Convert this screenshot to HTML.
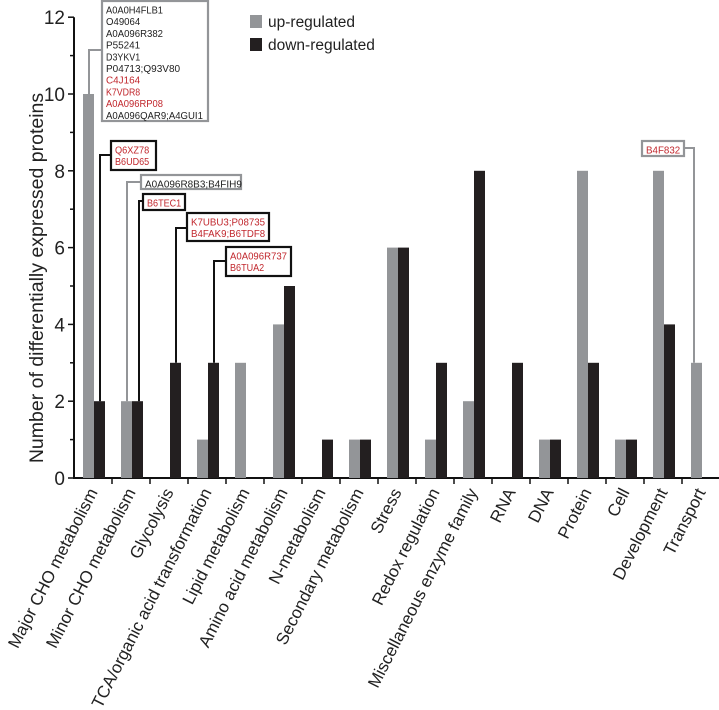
<!DOCTYPE html>
<html><head><meta charset="utf-8"><style>
body{margin:0;background:#fff;}
svg{display:block;font-family:"Liberation Sans",Arial,sans-serif;}
</style></head><body>
<svg id="chart" width="719" height="710">
<g id="axes"></g><g id="bars"></g><g id="annos"></g>
<text transform="translate(43,278) rotate(-90)" text-anchor="middle" font-size="19.5" fill="#222">Number of differentially expressed proteins</text>
<g>
<rect x="250" y="15" width="12" height="13" fill="#939598"/>
<text x="268" y="27" font-size="15.5" fill="#222">up-regulated</text>
<rect x="250" y="38" width="12" height="13" fill="#231f20"/>
<text x="268" y="50" font-size="15.5" fill="#222">down-regulated</text>
</g>
</svg>
<script>
const categories=["Major CHO metabolism","Minor CHO metabolism","Glycolysis","TCA/organic acid transformation","Lipid metabolism","Amino acid metabolism","N-metabolism","Secondary metabolism","Stress","Redox regulation","Miscellaneous enzyme family","RNA","DNA","Protein","Cell","Development","Transport"];
const upValues=[10,2,0,1,3,4,0,1,6,1,2,0,1,8,1,8,3];
const downValues=[2,2,3,3,0,5,1,1,6,3,8,3,1,3,1,4,0];
const yTicks=[0,2,4,6,8,10,12];
const NS="http://www.w3.org/2000/svg";
const X0=74,STEP=38,Y0=478,UNIT=38.4,BW=11;
const xg=i=>X0+STEP*i+9, xb=i=>X0+STEP*i+20, y=v=>Y0-v*UNIT;
function mk(t,a,p){const e=document.createElementNS(NS,t);for(const k in a)e.setAttribute(k,a[k]);p.appendChild(e);return e;}
const axes=document.getElementById('axes'),bars=document.getElementById('bars'),annos=document.getElementById('annos');
let l=mk('line',{x1:X0,y1:y(12),x2:X0,y2:Y0+1,stroke:'#111','stroke-width':2},axes);


l=mk('line',{x1:X0-1,y1:Y0,x2:719,y2:Y0,stroke:'#111','stroke-width':2},axes);


for(let v=0;v<=12;v++){mk('line',{x1:X0-(v%2?4:6),y1:y(v),x2:X0,y2:y(v),stroke:'#111','stroke-width':1.5},axes);}
yTicks.forEach(v=>{const t=mk('text',{x:X0-9,y:y(v)+7,'text-anchor':'end','font-size':19,fill:'#222'},axes);t.textContent=v;

});
categories.forEach((c,i)=>{
 mk('line',{x1:X0+STEP*(i+1),y1:Y0,x2:X0+STEP*(i+1),y2:Y0+6,stroke:'#111','stroke-width':1.5},axes);
 const cx=X0+STEP*i+24;
 const t=mk('text',{transform:`translate(${cx},${Y0+14}) rotate(-63)`,'text-anchor':'end','font-size':17,fill:'#222'},axes);t.textContent=c;
 
 
 if(upValues[i]>0){const r=mk('rect',{x:xg(i),y:y(upValues[i]),width:BW,height:upValues[i]*UNIT,fill:'#939598'},bars);
  
  }
 if(downValues[i]>0){const r=mk('rect',{x:xb(i),y:y(downValues[i]),width:BW,height:downValues[i]*UNIT,fill:'#231f20'},bars);
  
  }
});
function anno(lx,ly0,ly1,bx,by,bw,bh,col,lines,reds,rightSide){
 const g=mk('g',{},annos);
 
 
 if(rightSide){mk('polyline',{points:`${bx+bw},${ly1} ${lx},${ly1} ${lx},${ly0}`,fill:'none',stroke:col,'stroke-width':2},g);}
 else mk('polyline',{points:`${lx},${ly0} ${lx},${ly1} ${bx},${ly1}`,fill:'none',stroke:col,'stroke-width':2},g);
 mk('rect',{x:bx,y:by,width:bw,height:bh,fill:'#fff',stroke:col,'stroke-width':2.2},g);
 lines.forEach((s,k)=>{const t=mk('text',{x:bx+4,y:by+12.5+k*11.7,'font-size':10.5,fill:reds[k]?'#c1272d':'#222',textLength:s.length*5.7,lengthAdjust:'spacingAndGlyphs'},g);t.textContent=s;});
}
anno(89,y(10),50,102,1,106,120,'#939598',["A0A0H4FLB1","O49064","A0A096R382","P55241","D3YKV1","P04713;Q93V80","C4J164","K7VDR8","A0A096RP08","A0A096QAR9;A4GUI1"],[0,0,0,0,0,0,1,1,1,0]);
anno(100,y(2),155,111,141,45,29,'#111',["Q6XZ78","B6UD65"],[1,1]);
anno(127,y(2),182,141,175,100,14,'#939598',["A0A096R8B3;B4FIH9"],[0]);
anno(139,y(2),201,143,194,42,16,'#111',["B6TEC1"],[1]);
anno(176,y(3),228,187,213,82,28,'#111',["K7UBU3;P08735","B4FAK9;B6TDF8"],[1,1]);
anno(214,y(3),261,226,247,65,29,'#111',["A0A096R737","B6TUA2"],[1,1]);
anno(694,y(3),148,642,141,42,15,'#939598',["B4F832"],[1],true);
</script>
</body></html>
